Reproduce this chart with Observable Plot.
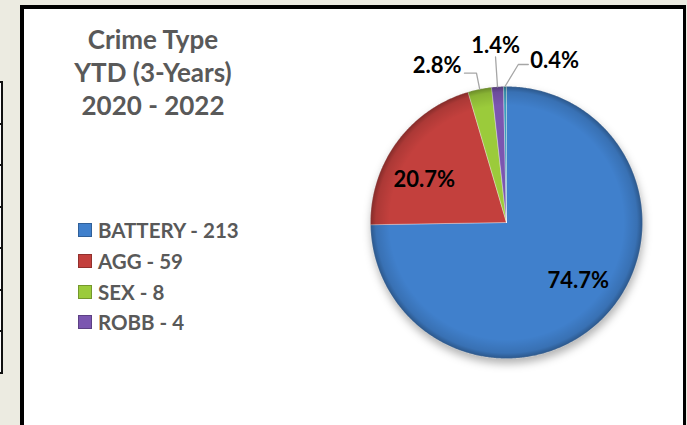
<!DOCTYPE html>
<html><head><meta charset="utf-8">
<script src="https://cdn.jsdelivr.net/npm/d3@7"></script>
<script src="https://cdn.jsdelivr.net/npm/@observablehq/plot@0.6"></script>
<style>
html,body{margin:0;padding:0;}
body{width:687px;height:425px;overflow:hidden;background:#ecebe1;position:relative;font-family:Lato,"Open Sans",sans-serif;}
#table{position:absolute;left:0;top:81px;width:1px;border-right:2px solid #111;background:#fff;border-bottom:2px solid #111}
#table div{height:39.5px;border-top:2px solid #111}
#frame{position:absolute;left:20px;top:5px;width:659px;height:440px;border:4px solid #000;border-right-width:3px;background:#fff}
#title{position:absolute;left:43px;width:220px;top:23px;text-align:center;font-weight:700;font-size:26px;line-height:33px;color:#595959}
#legend{position:absolute;left:78px;top:215px;font-weight:700;font-size:20.5px;color:#595959}
#legend .row{display:flex;align-items:center;height:30.7px;white-space:nowrap}
#legend .sw{width:14px;height:14px;margin-right:6px;box-shadow:inset 0 0 0 1px rgba(0,0,0,0.25)}
#chart{position:absolute;left:0;top:0}
</style></head>
<body>
<div id="table"></div>
<div id="frame"></div>
<div id="title"></div>
<div id="legend"></div>
<div id="chart"></div>
<script>
// ---- data ----
const titleLines = ["Crime Type", "YTD (3-Years)", "2020 - 2022"];
const categories = ["BATTERY", "AGG", "SEX", "ROBB", "OTHER"];
const counts = [213, 59, 8, 4, 1];
const legendCount = 4;
const colors = ["#4080cc", "#c3403d", "#9bcb3b", "#7b56b0", "#3b9cbc"];

// ---- layout ----
const cx = 506, cy = 222, R = 136;
const labelNudge = [-5.5, -9, 0, 0, 4.9];      // degrees
const labelRadius = [0.68, 0.68, 1.12, 1.22, 1.165];
const labelSide = ["in", "in", "left", "up", "right"];

// table fragment on the left
const tbl = document.getElementById("table");
for (let i = 0; i < 7; i++) tbl.appendChild(document.createElement("div"));

document.getElementById("title").innerHTML = titleLines.join("<br>");
const leg = document.getElementById("legend");
categories.slice(0, legendCount).forEach((c, i) => {
  const row = document.createElement("div"); row.className = "row";
  const sw = document.createElement("span"); sw.className = "sw"; sw.style.background = colors[i];
  const tx = document.createElement("span"); tx.textContent = `${c} - ${counts[i]}`;
  row.appendChild(sw); row.appendChild(tx); leg.appendChild(row);
});

const total = d3.sum(counts);
const data = categories.map((c, i) => ({key: c, value: counts[i]}));
const arcs = d3.pie().sort(null).value(d => d.value)(data);
const deg = Math.PI / 180;
const polar = (a, r) => ({x: r * Math.sin(a), y: r * Math.cos(a)});
const slicePts = arcs.flatMap(a => {
  const n = Math.max(2, Math.ceil((a.endAngle - a.startAngle) / (0.5 * deg)));
  const pts = [{key: a.data.key, x: 0, y: 0}];
  for (let k = 0; k <= n; k++) {
    const t = a.startAngle + (a.endAngle - a.startAngle) * k / n;
    pts.push({key: a.data.key, ...polar(t, 1)});
  }
  pts.push({key: a.data.key, x: 0, y: 0});
  return pts;
});
const labels = arcs.map((a, i) => {
  const mid = (a.startAngle + a.endAngle) / 2;
  const p = polar(mid + labelNudge[i] * deg, labelRadius[i]);
  return {key: a.data.key, side: labelSide[i], text: (a.data.value / total * 100).toFixed(1) + "%", mid, ...p};
});
const leaders = labels.filter(l => l.side !== "in").flatMap(l => {
  const pts = [{key: l.key, ...polar(l.mid, 1)}, {key: l.key, x: l.x, y: l.y}];
  if (l.side === "left") pts.push({key: l.key, x: l.x - 12 / R, y: l.y});
  if (l.side === "right") pts.push({key: l.key, x: l.x + 10 / R, y: l.y});
  return pts;
});
const txt = {x: "x", y: "y", text: "text", fontSize: 22, fontWeight: 700, fill: "#000"};

const plot = Plot.plot({
  width: 687, height: 425, margin: 0,
  x: {domain: [-1, 1], range: [cx - R, cx + R], axis: null},
  y: {domain: [-1, 1], range: [cy + R, cy - R], axis: null},
  color: {domain: categories, range: colors},
  style: {background: "transparent", fontFamily: "Lato, 'Open Sans', sans-serif", overflow: "visible"},
  marks: [
    Plot.line(slicePts, {x: "x", y: "y", z: "key", fill: "key", stroke: "#ffffff", strokeOpacity: 0.35, strokeWidth: 1}),
    Plot.line(slicePts, {x: "x", y: "y", z: "key", fill: "#000", stroke: "none"}),
    Plot.line(leaders, {x: "x", y: "y", z: "key", stroke: "#a6a6a6", strokeWidth: 1.3}),
    Plot.text(labels.filter(d => d.side === "in"), txt),
    Plot.text(labels.filter(d => d.side === "left"), {...txt, textAnchor: "end", dx: -15, dy: -7}),
    Plot.text(labels.filter(d => d.side === "up"), {...txt, dy: -11}),
    Plot.text(labels.filter(d => d.side === "right"), {...txt, textAnchor: "start", dx: 12, dy: -4})
  ]
});
const X = plot.scale("x").apply, Y = plot.scale("y").apply;
const svg = d3.select(plot);
const defs = svg.insert("defs", ":first-child");
const grad = defs.append("radialGradient").attr("id", "rim").attr("gradientUnits", "userSpaceOnUse")
  .attr("cx", X(0)).attr("cy", Y(0)).attr("r", X(1) - X(0));
[[0, 0], [0.86, 0], [0.96, 0.12], [1, 0.32]].forEach(([o, a]) =>
  grad.append("stop").attr("offset", o).attr("stop-color", "#000").attr("stop-opacity", a));
const lineGroups = plot.querySelectorAll('g[aria-label="line"]');
d3.select(lineGroups[0]).style("filter", "drop-shadow(1px 5px 4px rgba(0,0,0,0.3))");
d3.select(lineGroups[1]).attr("fill", "url(#rim)").selectAll("path").attr("fill", null);
document.getElementById("chart").appendChild(plot);
</script>
</body></html>
